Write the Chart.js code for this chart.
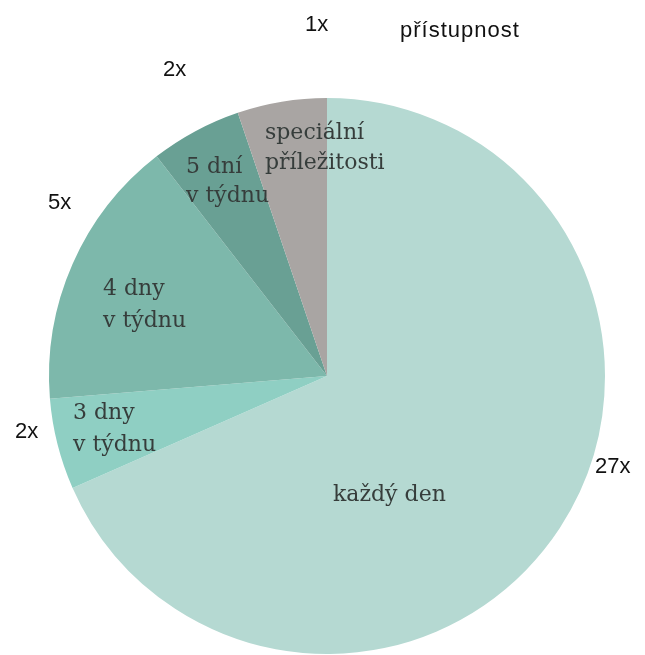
<!DOCTYPE html>
<html>
<head>
<meta charset="utf-8">
<script src="https://cdn.jsdelivr.net/npm/chart.js@4"></script>
<style>
html,body{margin:0;padding:0;background:#fff;}
#wrap{width:645px;height:655px;position:relative;}
</style>
</head>
<body>
<div id="wrap"><canvas id="c" width="645" height="655"></canvas></div>
<script>
// categories (slice text, two lines each)
const categories = ["každý den", "3 dny|v týdnu", "4 dny|v týdnu", "5 dní|v týdnu", "speciální|příležitosti"];
// slice shares (angles)
const shares = [68.4, 5.3, 15.8, 5.3, 5.2];
// count labels printed around the pie
const countLabels = ["27x", "2x", "5x", "2x", "1x"];
const chartTitle = "přístupnost";

const colors = ["#b5d9d2", "#8fcfc3", "#7db8ab", "#69a094", "#a9a5a3"];

// label layout (left x, middle y of first line)
const innerPos = [[333, 495], [73, 413], [103, 289], [186, 167], [265, 133]];
const innerLineGap = [0, 32, 32, 29, 30];
const outerPos = [[595, 467], [15, 432], [48, 203], [163, 70], [305, 25]];

const labelPlugin = {
  id: 'labels',
  afterDraw(chart) {
    const ctx = chart.ctx;
    ctx.save();
    ctx.textBaseline = 'middle';
    ctx.textAlign = 'left';
    // inner serif labels
    ctx.fillStyle = '#363d3b';
    ctx.font = '22px "DejaVu Serif"';
    categories.forEach((c, i) => {
      const lines = c.split('|');
      lines.forEach((ln, j) => {
        ctx.fillText(ln, innerPos[i][0], innerPos[i][1] + j * innerLineGap[i]);
      });
    });
    // outer counts
    ctx.fillStyle = '#111';
    ctx.font = '22px "Liberation Sans"';
    countLabels.forEach((t, i) => {
      ctx.fillText(t, outerPos[i][0], outerPos[i][1]);
    });
    // title
    try { ctx.letterSpacing = '1px'; } catch (e) {}
    ctx.fillText(chartTitle, 400, 31);
    ctx.restore();
  }
};

new Chart(document.getElementById('c'), {
  type: 'pie',
  data: {
    labels: categories.map(c => c.replace('|', ' ')),
    datasets: [{
      data: shares,
      backgroundColor: colors,
      borderWidth: 0,
      hoverOffset: 0
    }]
  },
  options: {
    responsive: false,
    animation: false,
    rotation: 0,
    layout: { padding: { left: 49, right: 40, top: 98, bottom: 1 } },
    plugins: {
      legend: { display: false },
      tooltip: { enabled: false },
      title: { display: false }
    }
  },
  plugins: [labelPlugin]
});
</script>
</body>
</html>
